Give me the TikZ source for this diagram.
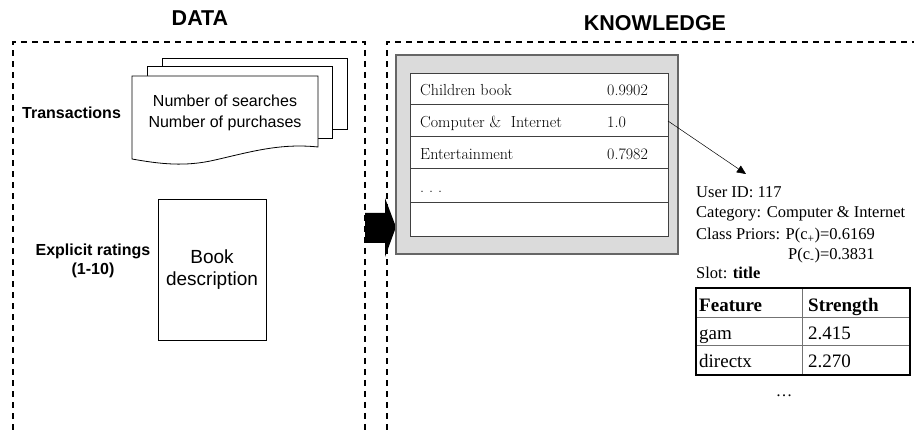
\documentclass[tikz,border=0pt]{standalone}
\usepackage{fontspec}
\usetikzlibrary{arrows.meta}
\setmainfont{Liberation Serif}
\setsansfont{Liberation Sans}
\newfontfamily\lmfont{Latin Modern Roman}
\begin{document}
\begin{tikzpicture}[x=1pt,y=-1pt,
  region/.style={line width=1.6pt,dash pattern=on 6pt off 5pt},
  title/.style={font=\sffamily\bfseries\fontsize{21.5}{24}\selectfont,anchor=base,inner sep=0pt},
  lbl/.style={font=\sffamily\bfseries\fontsize{16}{19.5}\selectfont,inner sep=0pt},
  doc/.style={draw,line width=0.8pt,fill=white},
  dtxt/.style={font=\sffamily\fontsize{16}{21}\selectfont,anchor=base,inner sep=0pt},
  btxt/.style={font=\sffamily\fontsize{19}{23}\selectfont,anchor=base,inner sep=0pt},
  rowtxt/.style={font=\lmfont\fontsize{16}{18}\selectfont,anchor=base west,inner sep=0pt},
  info/.style={font=\fontsize{16.5}{20}\selectfont,anchor=base west,inner sep=0pt},
  ftab/.style={font=\fontsize{19}{22}\selectfont,anchor=base west,inner sep=0pt}]
\useasboundingbox (0,0) rectangle (914,430);
% titles
\node[title] (tdata) at (200,26) {DATA};
\node[title] (tknow) at (655,31) {KNOWLEDGE};
% regions
\draw[region] (13,430) -- (13,42) -- (365,42) -- (365,430);
\draw[region] (387,430) -- (387,42) -- (914,42);
% labels
\node[lbl,anchor=base west] (ltrans) at (22,119) {Transactions};
\node[lbl,anchor=base] (lexp) at (93,255.5) {Explicit ratings};
\node[lbl,anchor=base] (lexp2) at (93,275) {(1-10)};
% document stack
\draw[doc] (162,58) rectangle (347,129);
\draw[doc] (147,66) rectangle (332,138);
\draw[doc] (132,76) -- (318,76) -- (318,147)
  .. controls (280,143) and (250,152) .. (215,160)
  .. controls (185,167) and (160,164) .. (132,159) -- cycle;
\node[dtxt] (trans1) at (225,107) {Number of searches};
\node[dtxt] (trans2) at (225,128) {Number of purchases};
% book description
\draw[line width=0.8pt] (158,199) rectangle (266,340);
\node[btxt] (book1) at (212,264) {Book};
\node[btxt] (book2) at (212,286) {description};
% big arrow
\fill (365,213) -- (385,213) -- (385,198) -- (396,227) -- (385,257) -- (385,243) -- (365,243) -- cycle;
% knowledge gray box
\draw[line width=1.2pt,draw=black!60,fill=black!14] (396,55) rectangle (678,254);
\node[draw=black!75,line width=1pt,fill=white,minimum width=258pt,minimum height=163pt,inner sep=0pt] (cats) at (539,155.5) {};
\foreach \y in {105,137,169,203} \draw[black!75,line width=1pt] (410,\y) -- (668,\y);
\node[rowtxt] (r1) at (420,96) {Children book};
\node[rowtxt] (v1) at (607,96) {0.9902};
\node[rowtxt] (r2) at (420,128) {Computer \&\ \ Internet};
\node[rowtxt] (v2) at (607,128) {1.0};
\node[rowtxt] (r3) at (420,160) {Entertainment};
\node[rowtxt] (v3) at (607,160) {0.7982};
\node[rowtxt] (r4) at (420,193) {.\hspace{5pt}.\hspace{5pt}.};
\coordinate (row2e) at (668,121);
\coordinate (infoarr) at (746,174);
\draw[-{Triangle[length=9pt,width=8pt]},line width=0.5pt] (row2e) -- (infoarr);
% info text
\node[info] (i1) at (696,197.5) {User ID: 117};
\node[info] (i2) at (696,218) {Category: Computer \& Internet};
\node[info] (i3) at (696,240) {Class Priors: P(c\textsubscript{+})=0.6169};
\node[info] (i4) at (788,260) {P(c\textsubscript{-})=0.3831};
\node[info] (i5) at (696,279) {Slot: \textbf{title}};
% feature table
\draw[black!55,line width=1pt] (696,318) -- (910,318) (696,346) -- (910,346) (802,288) -- (802,375);
\draw[line width=1.6pt] (696,288) rectangle (910,375);
\node[ftab] (f1) at (699,311.5) {\textbf{Feature}};
\node[ftab] (f2) at (808,311.5) {\textbf{Strength}};
\node[ftab] (f3) at (699,340) {gam};
\node[ftab] (f4) at (808,340) {2.415};
\node[ftab] (f5) at (699,368) {directx};
\node[ftab] (f6) at (808,368) {2.270};
\node[info,anchor=base] (dots) at (784,397) {\dots};
\end{tikzpicture}
\end{document}
